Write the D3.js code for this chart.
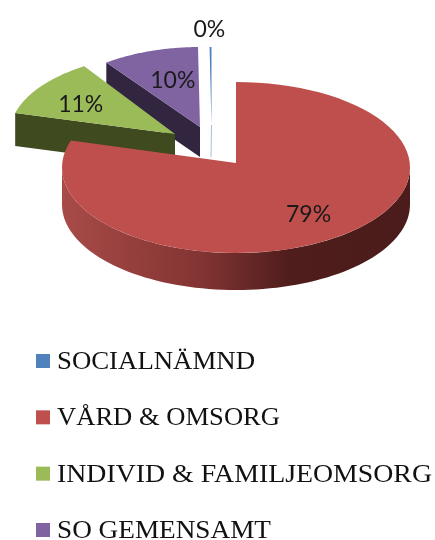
<!DOCTYPE html>
<html>
<head>
<meta charset="utf-8">
<script src="https://cdn.jsdelivr.net/npm/d3@7/dist/d3.min.js"></script>
<style>
html,body{margin:0;padding:0;background:#fff;overflow:hidden}
svg{display:block;filter:blur(0.45px)}
</style>
</head>
<body>
<script>
// Data
const categories = ["SOCIALNÄMND", "VÅRD & OMSORG", "INDIVID & FAMILJEOMSORG", "SO GEMENSAMT"];
const shares = [0.2, 79, 10.9, 9.9];
const colors = ["#4F81BD", "#BE4F4C", "#9BBB59", "#8064A2"];
const sideColors = ["#A9BED6", "url(#redWall)", "#3F4A1F", "#31253F"];

// Layout of the tilted, exploded pie (one entry per slice); endWarp is the
// extra sweep in degrees that the perspective of the original gives a slice.
const geometry = [
  {cx:211.5, cy:125,   tipY:125, rx:155, ry:78,   depth:30, labelAt:1.25, labelDx:-1,  endWarp:0},
  {cx:236,   cy:167.5, tipY:163, rx:174, ry:85.5, depth:37, labelAt:0.68, labelDx:0,   endWarp:4},
  {cx:175,   cy:133,   tipY:134, rx:165, ry:80,   depth:33, labelAt:0.66, labelDx:-4,  endWarp:3},
  {cx:200,   cy:127,   tipY:127, rx:158, ry:80,   depth:30, labelAt:0.63, labelDx:4.5, endWarp:0}
];
const legendTextWidths = [198, 223, 375, 214];
const W = 435, H = 540;
const legendY = d3.scalePoint().domain(categories).range([361, 530]);

const svg = d3.select("body").append("svg").attr("width", W).attr("height", H);
const grad = svg.append("defs").append("linearGradient")
  .attr("id", "redWall").attr("gradientUnits", "userSpaceOnUse")
  .attr("x1", 62).attr("x2", 410).attr("y1", 0).attr("y2", 0);
[[0, "#A84B48"], [0.4, "#823432"], [0.66, "#4E1D1C"], [1, "#4B1C1B"]].forEach(([o, c]) =>
  grad.append("stop").attr("offset", o).attr("stop-color", c));

const pieGen = d3.pie().sort(null).value(d => d)
  .startAngle(-shares[0] / 100 * 2 * Math.PI)
  .endAngle((1 - shares[0] / 100) * 2 * Math.PI);
const arcs = pieGen(shares);
const line = d3.line();

function at(g, a, f = 1, drop = 0) {
  return [g.cx + g.rx * f * Math.sin(a), g.cy - g.ry * f * Math.cos(a) + drop];
}
function rim(g, a0, a1, drop = 0) {
  const n = 80;
  return d3.range(n + 1).map(i => at(g, a0 + (a1 - a0) * i / n, 1, drop));
}

// back-to-front: blue, purple, green, red
[0, 3, 2, 1].forEach(i => {
  const g = geometry[i], d = arcs[i], tip = [g.cx, g.tipY];
  const endA = d.endAngle + g.endWarp * Math.PI / 180;
  const layer = svg.append("g");
  if (i === 1) {
    // outer wall along the front of the big slice
    const top = rim(g, Math.PI / 2, 3 * Math.PI / 2);
    const bottom = rim(g, 3 * Math.PI / 2, Math.PI / 2, g.depth);
    layer.append("path").attr("d", line(top.concat(bottom)) + "Z").attr("fill", sideColors[i]);
  } else if (i === 0) {
    layer.append("line")
      .attr("x1", tip[0]).attr("y1", tip[1])
      .attr("x2", tip[0] - 0.5).attr("y2", tip[1] + g.depth + 2)
      .attr("stroke", sideColors[i]).attr("stroke-width", 1);
  } else {
    // cut face, seen from the front
    const corner = at(g, d.startAngle);
    const face = [corner, tip, [tip[0], tip[1] + g.depth], [corner[0], corner[1] + g.depth]];
    layer.append("path").attr("d", line(face) + "Z").attr("fill", sideColors[i]);
  }
  const surface = [tip].concat(rim(g, d.startAngle, endA));
  layer.append("path").attr("d", line(surface) + "Z").attr("fill", colors[i]);
});

// Data labels
svg.append("g").selectAll("text").data(arcs).join("text")
  .attr("x", (d, i) => at(geometry[i], (d.startAngle + d.endAngle) / 2, geometry[i].labelAt)[0] + geometry[i].labelDx)
  .attr("y", (d, i) => at(geometry[i], (d.startAngle + d.endAngle) / 2, geometry[i].labelAt)[1])
  .attr("text-anchor", "middle").attr("dominant-baseline", "central")
  .attr("font-family", "Lato, 'Open Sans', sans-serif").attr("font-size", 23)
  .attr("fill", "#1a1a1a")
  .text(d => d3.format(".0f")(d.value) + "%");

// Legend
const legend = svg.append("g").selectAll("g").data(categories).join("g")
  .attr("transform", d => `translate(0,${legendY(d)})`);
legend.append("rect").attr("x", 36).attr("y", -7).attr("width", 14).attr("height", 14)
  .attr("fill", (d, i) => colors[i]);
legend.append("text")
  .attr("x", 57).attr("y", 8)
  .attr("textLength", (d, i) => legendTextWidths[i])
  .attr("lengthAdjust", "spacingAndGlyphs")
  .attr("font-family", "'Liberation Serif', serif").attr("font-size", 25.5)
  .attr("fill", "#111")
  .text(d => d);
</script>
</body>
</html>
